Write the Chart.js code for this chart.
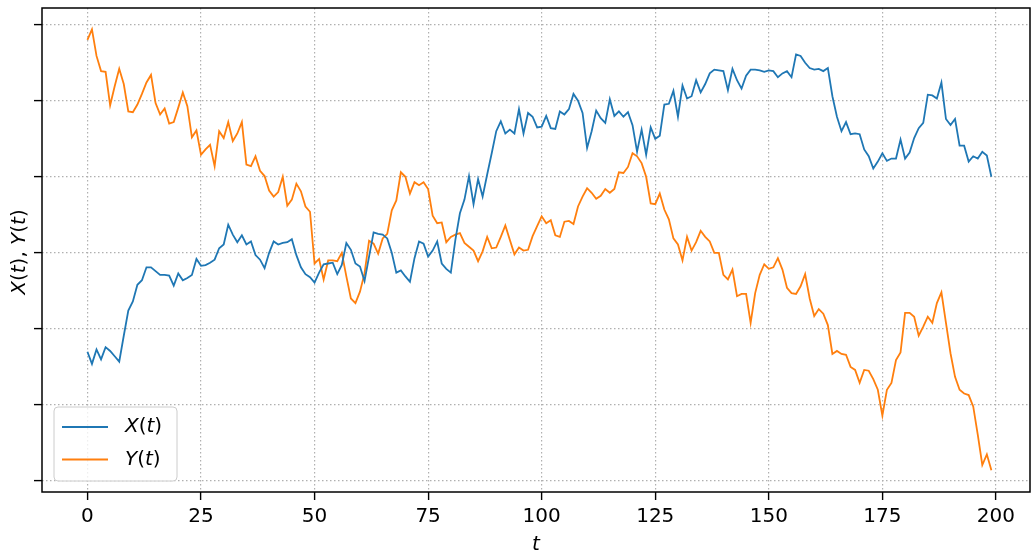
<!DOCTYPE html>
<html>
<head>
<meta charset="utf-8">
<script src="https://cdn.jsdelivr.net/npm/chart.js@4.4.1/dist/chart.umd.min.js"></script>
<style>
  html, body { margin: 0; padding: 0; background: #fff; }
  canvas { display: block; }
</style>
</head>
<body>
<canvas id="walkChart" width="1033" height="556"></canvas>
<script>
// time steps t = 0 .. 199
const steps = Array.from({ length: 200 }, (_, i) => i);

// X(t) (axis has no labels, unit = one grid step)
const xSeries = [
  -1.30, -1.46, -1.27, -1.40, -1.24, -1.29, -1.36, -1.43, -1.09, -0.76,
  -0.64, -0.42, -0.36, -0.19, -0.19, -0.24, -0.29, -0.29, -0.30, -0.43,
  -0.27, -0.36, -0.33, -0.29, -0.08, -0.17, -0.16, -0.13, -0.09, 0.06,
  0.11, 0.37, 0.24, 0.14, 0.23, 0.11, 0.15, -0.03, -0.09, -0.20,
  0.00, 0.15, 0.11, 0.13, 0.14, 0.18, -0.03, -0.19, -0.28, -0.32,
  -0.39, -0.26, -0.15, -0.14, -0.13, -0.28, -0.16, 0.13, 0.04, -0.14,
  -0.18, -0.37, -0.05, 0.27, 0.25, 0.24, 0.19, 0.00, -0.26, -0.23,
  -0.31, -0.38, -0.07, 0.15, 0.12, -0.05, 0.03, 0.15, -0.14, -0.21,
  -0.26, 0.17, 0.52, 0.70, 1.01, 0.64, 0.97, 0.74, 1.03, 1.31,
  1.60, 1.73, 1.57, 1.62, 1.57, 1.89, 1.57, 1.84, 1.79, 1.65,
  1.66, 1.80, 1.64, 1.63, 1.86, 1.82, 1.89, 2.09, 2.00, 1.84,
  1.38, 1.60, 1.87, 1.77, 1.71, 2.02, 1.80, 1.86, 1.79, 1.85,
  1.68, 1.33, 1.62, 1.29, 1.65, 1.50, 1.54, 1.95, 1.96, 2.13,
  1.79, 2.20, 2.03, 2.06, 2.27, 2.11, 2.22, 2.36, 2.41, 2.40,
  2.39, 2.14, 2.42, 2.27, 2.16, 2.33, 2.41, 2.41, 2.40, 2.38,
  2.40, 2.39, 2.31, 2.36, 2.39, 2.31, 2.61, 2.59, 2.50, 2.43,
  2.41, 2.42, 2.39, 2.43, 2.06, 1.79, 1.60, 1.72, 1.56, 1.57,
  1.56, 1.36, 1.27, 1.11, 1.20, 1.31, 1.21, 1.24, 1.24, 1.49,
  1.24, 1.32, 1.51, 1.64, 1.71, 2.08, 2.07, 2.03, 2.24, 1.76,
  1.68, 1.76, 1.41, 1.41, 1.20, 1.27, 1.24, 1.33, 1.28, 1.00
];

// Y(t)
const ySeries = [
  2.80, 2.94, 2.59, 2.39, 2.38, 1.94, 2.19, 2.42, 2.22, 1.86,
  1.85, 1.95, 2.09, 2.24, 2.34, 1.97, 1.82, 1.90, 1.70, 1.72,
  1.91, 2.11, 1.93, 1.52, 1.61, 1.29, 1.36, 1.42, 1.14, 1.60,
  1.51, 1.72, 1.47, 1.57, 1.72, 1.16, 1.14, 1.27, 1.08, 1.01,
  0.82, 0.74, 0.80, 1.00, 0.62, 0.70, 0.91, 0.81, 0.61, 0.54,
  -0.14, -0.08, -0.35, -0.10, -0.10, -0.11, 0.00, -0.31, -0.60, -0.66,
  -0.51, -0.27, 0.16, 0.12, -0.01, 0.19, 0.25, 0.56, 0.69, 1.06,
  1.00, 0.78, 0.93, 0.89, 0.93, 0.84, 0.49, 0.39, 0.40, 0.14,
  0.21, 0.24, 0.26, 0.13, 0.08, 0.03, -0.11, 0.02, 0.21, 0.06,
  0.07, 0.21, 0.36, 0.17, -0.02, 0.07, 0.03, 0.04, 0.22, 0.35,
  0.48, 0.39, 0.43, 0.23, 0.21, 0.41, 0.42, 0.38, 0.61, 0.74,
  0.85, 0.79, 0.71, 0.75, 0.84, 0.79, 0.84, 1.06, 1.05, 1.13,
  1.31, 1.27, 1.18, 1.00, 0.65, 0.64, 0.78, 0.57, 0.44, 0.19,
  0.11, -0.10, 0.21, 0.03, 0.14, 0.29, 0.21, 0.15, 0.00, 0.00,
  -0.29, -0.35, -0.22, -0.57, -0.54, -0.54, -0.92, -0.53, -0.29, -0.15,
  -0.21, -0.19, -0.07, -0.22, -0.46, -0.53, -0.54, -0.44, -0.28, -0.60,
  -0.83, -0.74, -0.80, -0.95, -1.33, -1.29, -1.33, -1.34, -1.50, -1.54,
  -1.71, -1.54, -1.55, -1.66, -1.80, -2.14, -1.80, -1.71, -1.41, -1.31,
  -0.79, -0.79, -0.84, -1.09, -0.97, -0.84, -0.92, -0.66, -0.52, -0.92,
  -1.32, -1.63, -1.80, -1.85, -1.87, -2.02, -2.39, -2.79, -2.65, -2.86
];

const xTicks = [0, 25, 50, 75, 100, 125, 150, 175, 200];
const yTicks = [-3, -2, -1, 0, 1, 2, 3];

const FONT = '"DejaVu Sans", sans-serif';
const TXT = 20;

// draw a mix of italic / upright pieces, like matplotlib mathtext
function mathWidth(ctx, parts, size) {
  let w = 0;
  for (const [txt, it] of parts) {
    ctx.font = (it ? 'italic ' : '') + size + 'px ' + FONT;
    w += ctx.measureText(txt).width;
  }
  return w;
}
function drawMath(ctx, parts, x, y, size) {
  ctx.textBaseline = 'middle';
  ctx.textAlign = 'left';
  ctx.fillStyle = '#000';
  for (const [txt, it] of parts) {
    ctx.font = (it ? 'italic ' : '') + size + 'px ' + FONT;
    ctx.fillText(txt, x, y);
    x += ctx.measureText(txt).width;
  }
}

const labelParts = {
  'X(t)': [['X', true], ['(', false], ['t', true], [')', false]],
  'Y(t)': [['Y', true], ['(', false], ['t', true], [')', false]]
};

const extras = {
  id: 'extras',
  afterDraw(chart) {
    const ctx = chart.ctx;
    const a = chart.chartArea;
    ctx.save();

    // frame
    ctx.strokeStyle = '#000';
    ctx.lineWidth = 1.5;
    ctx.strokeRect(a.left, a.top, a.right - a.left, a.bottom - a.top);

    // y axis title
    const yParts = [['X', true], ['(', false], ['t', true], [')', false], [', ', false],
                    ['Y', true], ['(', false], ['t', true], [')', false]];
    const w = mathWidth(ctx, yParts, TXT);
    ctx.save();
    ctx.translate(20, (a.top + a.bottom) / 2 + 2);
    ctx.rotate(-Math.PI / 2);
    drawMath(ctx, yParts, -w / 2, 0, TXT);
    ctx.restore();

    // legend
    const lx = 54, ly = 407, lw = 123, lh = 74;
    ctx.beginPath();
    ctx.roundRect(lx, ly, lw, lh, 4);
    ctx.fillStyle = 'rgba(255,255,255,0.8)';
    ctx.fill();
    ctx.strokeStyle = '#cccccc';
    ctx.lineWidth = 1;
    ctx.stroke();
    chart.data.datasets.forEach((ds, i) => {
      const cy = ly + 20 + i * 32.5;
      ctx.beginPath();
      ctx.moveTo(lx + 8, cy);
      ctx.lineTo(lx + 54, cy);
      ctx.strokeStyle = ds.borderColor;
      ctx.lineWidth = ds.borderWidth;
      ctx.stroke();
      drawMath(ctx, labelParts[ds.label], lx + 71, cy, TXT);
    });
    ctx.restore();
  }
};

new Chart(document.getElementById('walkChart'), {
  type: 'line',
  data: {
    datasets: [
      {
        label: 'X(t)',
        data: steps.map((t, i) => ({ x: t, y: xSeries[i] })),
        borderColor: '#1f77b4',
        borderWidth: 1.8,
        pointRadius: 0,
        tension: 0,
        fill: false
      },
      {
        label: 'Y(t)',
        data: steps.map((t, i) => ({ x: t, y: ySeries[i] })),
        borderColor: '#ff7f0e',
        borderWidth: 1.8,
        pointRadius: 0,
        tension: 0,
        fill: false
      }
    ]
  },
  options: {
    responsive: false,
    animation: false,
    layout: { padding: { top: 8, right: 3, left: 0, bottom: 0 } },
    plugins: { legend: { display: false }, tooltip: { enabled: false } },
    scales: {
      x: {
        type: 'linear',
        min: -10,
        max: 207.5,
        afterBuildTicks: s => { s.ticks = xTicks.map(v => ({ value: v })); },
        afterFit: s => { s.height = 64; },
        grid: {
          color: '#b0b0b0',
          lineWidth: 1.2,
          tickLength: 8,
          tickColor: '#000',
          tickWidth: 1.4
        },
        border: { display: false, dash: [1.5, 2.5] },
        ticks: {
          color: '#000',
          font: { family: FONT, size: TXT },
          padding: 5,
          maxRotation: 0
        },
        title: {
          display: true,
          text: 't',
          color: '#000',
          font: { family: FONT, size: TXT, style: 'italic', lineHeight: 1 },
          padding: { top: 0, bottom: 1 }
        }
      },
      y: {
        min: -3.145,
        max: 3.22,
        afterBuildTicks: s => { s.ticks = yTicks.map(v => ({ value: v })); },
        afterFit: s => { s.width = 42; },
        grid: {
          color: '#b0b0b0',
          lineWidth: 1.2,
          tickLength: 8,
          tickColor: '#000',
          tickWidth: 1.4
        },
        border: { display: false, dash: [1.5, 2.5] },
        ticks: { display: false }
      }
    }
  },
  plugins: [extras]
});
</script>
</body>
</html>
